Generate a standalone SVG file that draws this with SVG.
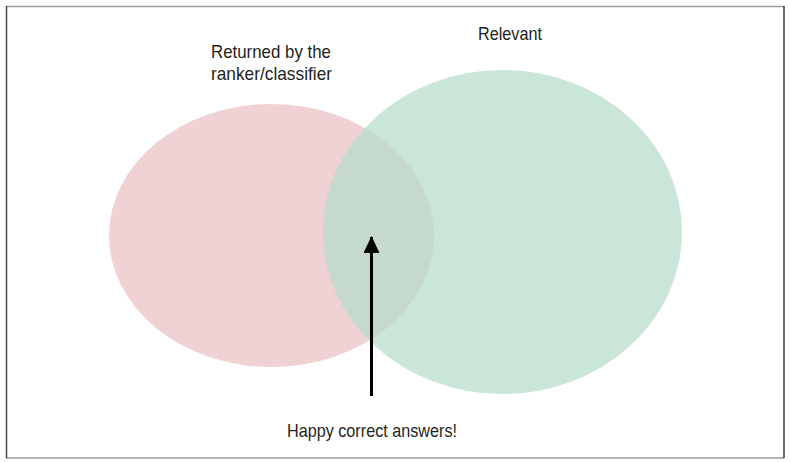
<svg xmlns="http://www.w3.org/2000/svg" width="790" height="462" viewBox="0 0 790 462">
  <style>
    .lbl { font-family: "Liberation Sans Narrow", "Liberation Sans", "DejaVu Sans Condensed", sans-serif; font-size: 18.5px; fill: #231f20; }
  </style>
  <defs>
    <clipPath id="greenClip">
      <ellipse cx="502.5" cy="232" rx="179.5" ry="162"/>
    </clipPath>
    <marker id="arrowHead" viewBox="0 0 17 16" refX="16" refY="8" markerWidth="17" markerHeight="16" markerUnits="userSpaceOnUse" orient="auto">
      <path d="M0,0 L17,8 L0,16 Z" fill="#000"/>
    </marker>
  </defs>
  <rect width="790" height="462" fill="#fff"/>
  <!-- frame -->
  <line x1="6" y1="6.5" x2="784" y2="6.5" stroke="#9a9a9a" stroke-width="1.5"/>
  <line x1="6" y1="458" x2="784" y2="458" stroke="#9a9a9a" stroke-width="1.5"/>
  <line x1="6.5" y1="6" x2="6.5" y2="458" stroke="#444" stroke-width="1.5"/>
  <line x1="784" y1="6" x2="784" y2="458" stroke="#333" stroke-width="1.5"/>

  <g id="returned">
    <ellipse cx="271.5" cy="235.5" rx="162.5" ry="131.5" fill="#f0d1d4"/>
    <text class="lbl" x="211" y="58" textLength="120" lengthAdjust="spacingAndGlyphs">Returned by the</text>
    <text class="lbl" x="211" y="80" textLength="121" lengthAdjust="spacingAndGlyphs">ranker/classifier</text>
  </g>
  <g id="relevant">
    <ellipse cx="502.5" cy="232" rx="179.5" ry="162" fill="#c9e6d8"/>
    <text class="lbl" x="478" y="40" textLength="64" lengthAdjust="spacingAndGlyphs">Relevant</text>
  </g>
  <g id="overlap">
    <ellipse cx="271.5" cy="235.5" rx="162.5" ry="131.5" fill="#c5d9cc" clip-path="url(#greenClip)"/>
  </g>
  <g id="connectors">
    <line x1="371.5" y1="396" x2="371.5" y2="237" stroke="#000" stroke-width="3" marker-end="url(#arrowHead)"/>
  </g>
  <g id="answers">
    <text class="lbl" x="287" y="437" textLength="170" lengthAdjust="spacingAndGlyphs">Happy correct answers!</text>
  </g>
</svg>
